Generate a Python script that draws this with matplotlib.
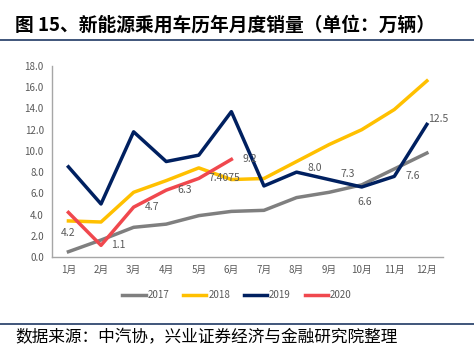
import matplotlib.pyplot as plt
from matplotlib.lines import Line2D

plt.rcParams['font.family'] = ['Noto Sans CJK SC', 'DejaVu Sans']

months = ['1月', '2月', '3月', '4月', '5月', '6月', '7月', '8月', '9月', '10月', '11月', '12月']
s2017 = [0.5, 1.6, 2.8, 3.1, 3.9, 4.3, 4.4, 5.6, 6.1, 6.8, 8.3, 9.8]
s2018 = [3.4, 3.3, 6.1, 7.2, 8.4, 7.3, 7.4, 9.0, 10.6, 12.0, 13.9, 16.6]
s2019 = [8.5, 5.0, 11.8, 9.0, 9.6, 13.7, 6.7, 8.0, 7.3, 6.6, 7.6, 12.5]
s2020 = [4.2, 1.1, 4.7, 6.3, 7.4075, 9.2]
labels2020 = ['4.2', '1.1', '4.7', '6.3', '7.4075', '9.2']
labels2019 = {7: '8.0', 8: '7.3', 9: '6.6', 10: '7.6', 11: '12.5'}

colors = {'2017': '#7f7f7f', '2018': '#ffc000', '2019': '#002060', '2020': '#f0484e'}
grey = '#595959'

fig = plt.figure(figsize=(4.74, 3.55), dpi=100)
ax = fig.add_axes([0.110, 0.276, 0.825, 0.538])

x = list(range(1, 13))
lw = 2.5
ax.plot(x, s2017, color=colors['2017'], lw=lw, label='2017')
ax.plot(x, s2018, color=colors['2018'], lw=lw, label='2018')
ax.plot(x, s2019, color=colors['2019'], lw=lw, label='2019')
ax.plot(x[:len(s2020)], s2020, color=colors['2020'], lw=lw, label='2020')

# data labels (offsets in pixels)
offs2020 = [(0, -21), (10, 0), (11, 0), (11, 0), (10, 0), (11, 0)]
for i, (v, t) in enumerate(zip(s2020, labels2020)):
    dx, dy = offs2020[i]
    ax.annotate(t, (x[i], v), xytext=(dx, dy), textcoords='offset pixels',
                fontsize=7.5, color=grey, ha='left' if i else 'center', va='center')
offs2019 = {7: (11, 4), 8: (11, 6), 9: (3, -15), 10: (11, 0), 11: (1, 5)}
for i, t in labels2019.items():
    dx, dy = offs2019[i]
    ax.annotate(t, (x[i], s2019[i]), xytext=(dx, dy), textcoords='offset pixels',
                fontsize=7.5, color=grey, ha='left' if i != 9 else 'center', va='center')

ax.set_xlim(0.5, 12.5)
ax.set_ylim(0, 18)
ax.set_yticks([0, 2, 4, 6, 8, 10, 12, 14, 16, 18])
ax.set_yticklabels([f'{v:.1f}' for v in range(0, 19, 2)])
ax.set_xticks(x)
ax.set_xticklabels(months)
ax.tick_params(axis='both', length=0, labelsize=7, colors=grey, pad=6)
for s in ['top', 'right']:
    ax.spines[s].set_visible(False)
for s in ['left', 'bottom']:
    ax.spines[s].set_color('#a6a6a6')
    ax.spines[s].set_linewidth(1)

handles = [Line2D([0], [0], color=colors[k], lw=lw) for k in colors]
fig.legend(handles, list(colors.keys()), loc='center', bbox_to_anchor=(0.5, 0.168),
           ncol=4, frameon=False, fontsize=7, handlelength=2.4, columnspacing=1.4,
           handletextpad=0.2, labelcolor=grey)

fig.text(0.032, 0.928, '图 15、新能源乘用车历年月度销量（单位：万辆）', fontsize=13.5,
         fontweight='bold', color='black', va='center')
fig.add_artist(Line2D([0.0, 1.0], [0.887, 0.887], color='#1f3864', lw=1.2))
fig.add_artist(Line2D([0.0, 1.0], [0.088, 0.088], color='#1f3864', lw=1.2))
fig.text(0.032, 0.048, '数据来源：中汽协，兴业证券经济与金融研究院整理', fontsize=12,
         color='black', va='center')

fig.savefig('out.png', dpi=100)
